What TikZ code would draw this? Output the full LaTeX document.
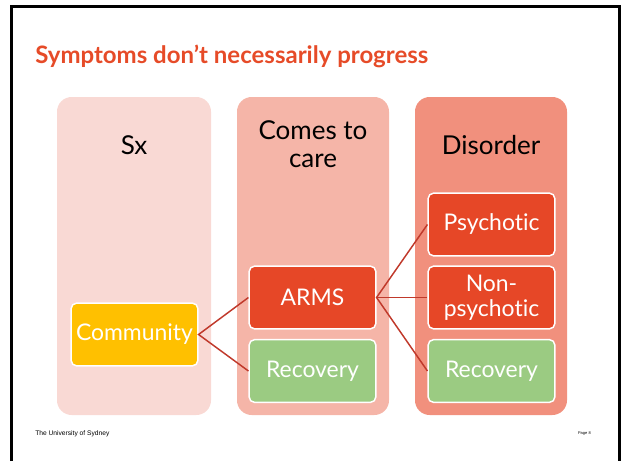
\documentclass[tikz,border=0pt]{standalone}
\usepackage{fontspec}
\setmainfont{Lato}[Ligatures=NoCommon]
\newfontfamily\footfont{Liberation Sans}
\usepackage{tikz}
\definecolor{colA}{RGB}{249,217,212}
\definecolor{colB}{RGB}{245,181,168}
\definecolor{colC}{RGB}{241,144,125}
\definecolor{ambr}{RGB}{255,192,0}
\definecolor{rdbox}{RGB}{230,71,39}
\definecolor{grbox}{RGB}{155,203,130}
\definecolor{lnk}{RGB}{192,57,43}
\definecolor{ttl}{RGB}{230,75,40}
\tikzset{
  colhead/.style={align=center,font=\fontsize{19.5}{21}\selectfont},
  itembox/.style={draw=white,line width=1.1pt,rounded corners=4pt,text=white,
    minimum width=95pt,minimum height=47pt,align=center,inner sep=1pt,
    font=\fontsize{17.2}{19}\selectfont},
  link/.style={color=lnk,line width=1.1pt}
}

\begin{document}
\begin{tikzpicture}[x=0.75pt,y=-0.75pt]
		\useasboundingbox (0,0) rectangle (621,461);
		\draw[line width=2pt,color=black] (11.5,461) |- (619.5,6.5) -- (619.5,461);
		\node[anchor=base west,inner sep=0pt,font=\bfseries\fontsize{18}{20}\selectfont,color=ttl] (title) at (35,63) {Symptoms don’t necessarily progress};
		% columns
		\fill[colA,rounded corners=11pt] (57,97) rectangle (211,415);
		\fill[colB,rounded corners=11pt] (237,97) rectangle (389,415);
		\fill[colC,rounded corners=11pt] (415,97) rectangle (567,415);
		\node[colhead] (sx) at (134,145) {Sx};
		\node[colhead] (care) at (313,144) {Comes to\\care};
		\node[colhead] (dis) at (491,145) {Disorder};
		% boxes
		\node[itembox,fill=ambr] (comm) at (134.5,334.5) {Community};
		\node[itembox,fill=rdbox] (arms) at (312.5,297.5) {ARMS};
		\node[itembox,fill=grbox] (rec1) at (312.5,371) {Recovery};
		\node[itembox,fill=rdbox] (psy) at (491.5,224.5) {Psychotic};
		\node[itembox,fill=rdbox] (nonpsy) at (491.5,297.5) {Non-\\psychotic};
		\node[itembox,fill=grbox] (rec2) at (491.5,371) {Recovery};
		\draw[link] (arms.west) -- (comm.east) -- (rec1.west);
		\draw[link] (psy.west) -- (arms.east) -- (rec2.west);
		\draw[link] (arms.east) -- (nonpsy.west);
		% footer
		\node[anchor=west,inner sep=0pt,font=\footfont\fontsize{5}{6}\selectfont] (uni) at (35,434) {The University of Sydney};
		\node[anchor=east,inner sep=0pt,font=\footfont\fontsize{3}{4}\selectfont] (page) at (591,434) {Page 8};
\end{tikzpicture}
\end{document}
